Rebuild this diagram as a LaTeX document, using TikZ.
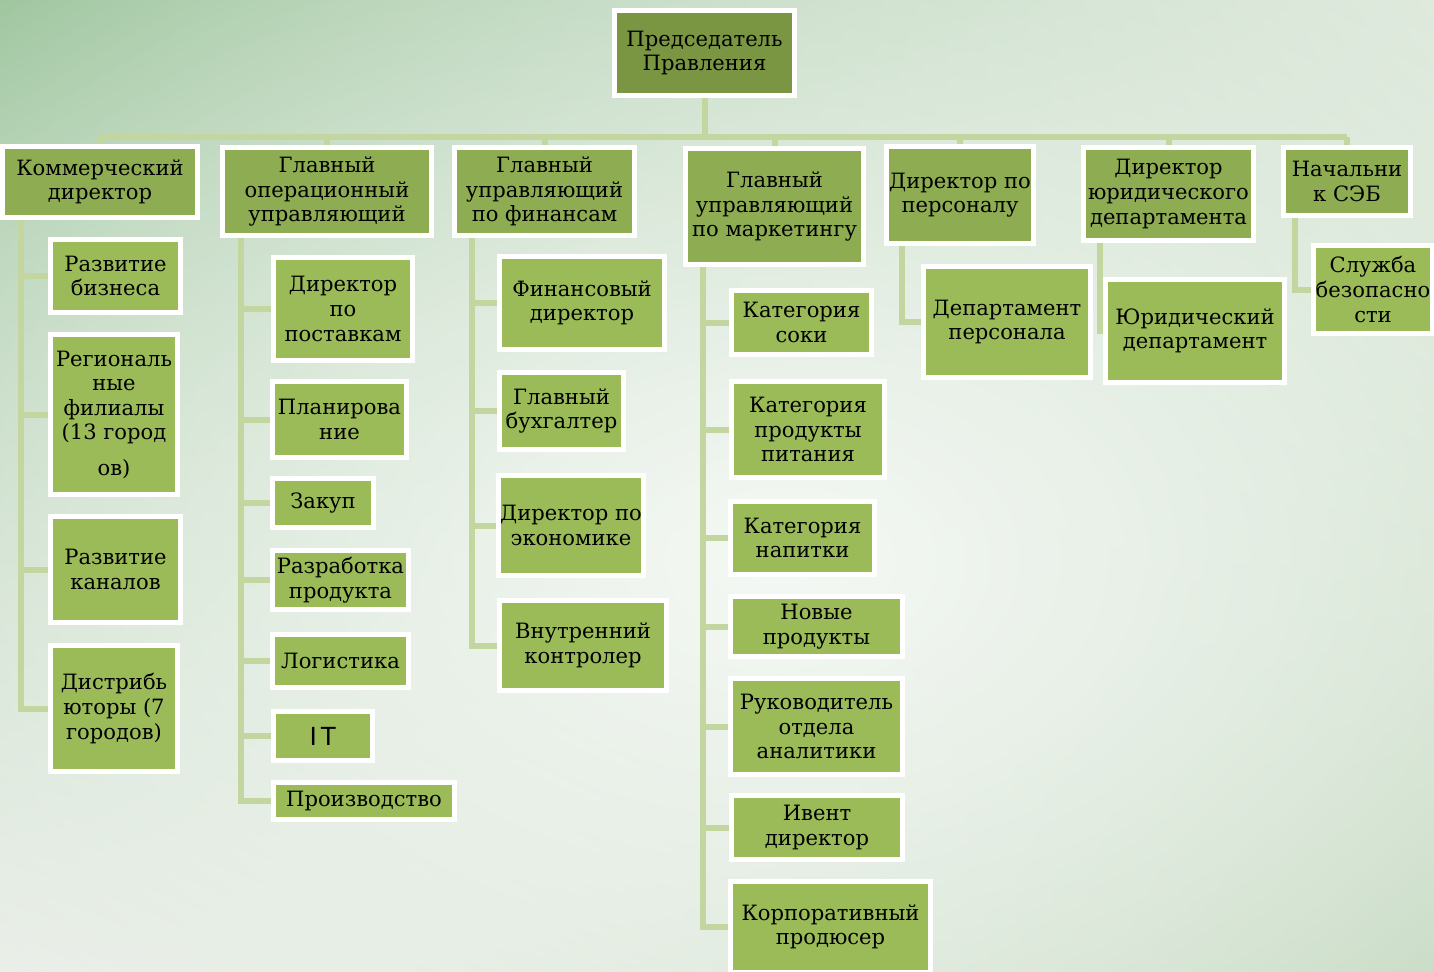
\documentclass[tikz,border=0pt]{standalone}
\usepackage{fontspec}
\setmainfont{DejaVu Serif}
\setsansfont{Liberation Sans}
\usetikzlibrary{backgrounds,fadings,shadings}
\definecolor{topgreen}{RGB}{122,150,67}
\definecolor{headgreen}{RGB}{142,172,82}
\definecolor{unitgreen}{RGB}{155,187,89}
\definecolor{linkgreen}{RGB}{196,214,160}
\definecolor{bgul}{RGB}{136,184,136}
\definecolor{bgur}{RGB}{212,227,210}
\definecolor{bgll}{RGB}{226,233,224}
\definecolor{bglr}{RGB}{176,204,172}
\tikzfading[name=glowfade, inner color=transparent!0, outer color=transparent!100]

\begin{document}
\begin{tikzpicture}[x=0.02cm,y=-0.02cm,
    orgbox/.style={draw=white, line width=0.1cm, inner sep=1pt, align=center,
      font=\fontsize{12}{14}\selectfont},
    chairbox/.style={orgbox, fill=topgreen},
    headbox/.style={orgbox, fill=headgreen},
    unitbox/.style={orgbox, fill=unitgreen},
    link/.style={draw=linkgreen, line width=0.12cm}]
        \useasboundingbox (0,0) rectangle (1434,971);
        \clip (0,0) rectangle (1434,971);

        % Chairman
        \node[chairbox, minimum width=3.6cm, minimum height=1.7cm] (chair) at (704.5,53) {Председатель\\Правления};

        % Heads
        \node[headbox, minimum width=3.92cm, minimum height=1.42cm] (kom) at (100,182) {Коммерческий\\директор};
        \node[headbox, minimum width=4.2cm, minimum height=1.76cm] (ops) at (327,191.5) {Главный\\операционный\\управляющий};
        \node[headbox, minimum width=3.6cm, minimum height=1.76cm] (fin) at (544.5,191.5) {Главный\\управляющий\\по финансам};
        \node[headbox, minimum width=3.56cm, minimum height=2.32cm] (mkt) at (774.5,206.5) {Главный\\управляющий\\по маркетингу};
        \node[headbox, minimum width=2.94cm, minimum height=1.94cm] (hr) at (960,195) {Директор по\\персоналу};
        \node[headbox, minimum width=3.4cm, minimum height=1.86cm] (legal) at (1168.5,194) {Директор\\юридического\\департамента};
        \node[headbox, minimum width=2.54cm, minimum height=1.36cm] (seb) at (1347,181.5) {Начальни\\к СЭБ};

        % Commercial
        \node[unitbox, minimum width=2.6cm, minimum height=1.46cm] (rb) at (115.5,276) {Развитие\\бизнеса};
        \node[unitbox, minimum width=2.54cm, minimum height=3.2cm] (rf) at (114,414.5) {Региональ\\ные\\филиалы\\(13 город\\[6pt]ов)};
        \node[unitbox, minimum width=2.6cm, minimum height=2.12cm] (rk) at (115.5,569.5) {Развитие\\каналов};
        \node[unitbox, minimum width=2.54cm, minimum height=2.52cm] (ds) at (114,708.5) {Дистрибь\\юторы (7\\городов)};

        % Operations
        \node[unitbox, minimum width=2.78cm, minimum height=2.06cm] (dp) at (343,309) {Директор\\по\\поставкам};
        \node[unitbox, minimum width=2.68cm, minimum height=1.52cm] (pl) at (339.5,419.5) {Планирова\\ние};
        \node[unitbox, minimum width=2.02cm, minimum height=0.98cm] (zk) at (323,503) {Закуп};
        \node[unitbox, minimum width=2.72cm, minimum height=1.18cm] (rp) at (340.5,580) {Разработка\\продукта};
        \node[unitbox, minimum width=2.72cm, minimum height=1.06cm] (lg) at (340.5,661) {Логистика};
        \node[unitbox, minimum width=1.98cm, minimum height=0.98cm] (it) at (323,736) {\fontsize{15}{16}\selectfont\sffamily I\kern2pt T};
        \node[unitbox, minimum width=3.62cm, minimum height=0.74cm] (pr) at (364,801) {Производство};

        % Finance
        \node[unitbox, minimum width=3.3cm, minimum height=1.86cm] (fd) at (582,303) {Финансовый\\директор};
        \node[unitbox, minimum width=2.48cm, minimum height=1.54cm] (gb) at (561.5,411) {Главный\\бухгалтер};
        \node[unitbox, minimum width=2.86cm, minimum height=2.0cm] (de) at (571,525.5) {Директор по\\экономике};
        \node[unitbox, minimum width=3.34cm, minimum height=1.8cm] (vk) at (583,645.5) {Внутренний\\контролер};

        % Marketing
        \node[unitbox, minimum width=2.8cm, minimum height=1.28cm] (ks) at (801.5,322.5) {Категория\\соки};
        \node[unitbox, minimum width=3.06cm, minimum height=1.92cm] (kp) at (808,429.5) {Категория\\продукты\\питания};
        \node[unitbox, minimum width=2.88cm, minimum height=1.46cm] (kn) at (802.5,538) {Категория\\напитки};
        \node[unitbox, minimum width=3.44cm, minimum height=1.2cm] (np) at (816.5,626.5) {Новые\\продукты};
        \node[unitbox, minimum width=3.44cm, minimum height=1.92cm] (ra) at (816.5,726.5) {Руководитель\\отдела\\аналитики};
        \node[unitbox, minimum width=3.42cm, minimum height=1.28cm] (id) at (817,827.5) {Ивент\\директор};
        \node[unitbox, minimum width=4.0cm, minimum height=1.82cm] (kpr) at (830.5,927) {Корпоративный\\продюсер};

        % Staff, legal, security
        \node[unitbox, minimum width=3.34cm, minimum height=2.22cm] (dpers) at (1007,322) {Департамент\\персонала};
        \node[unitbox, minimum width=3.58cm, minimum height=2.06cm] (yd) at (1195,331) {Юридический\\департамент};
        \node[unitbox, minimum width=2.38cm, minimum height=1.76cm] (sb) at (1373,289.5) {Служба\\безопасно\\сти};

        \coordinate (bus) at (0,137);
        \coordinate (s1) at (21,218);
        \coordinate (s2) at (241,237);
        \coordinate (s3) at (472,237);
        \coordinate (s4) at (703,267);
        \coordinate (s5) at (902,245);
        \coordinate (s6) at (1100,243);
        \coordinate (s7) at (1295,218);

        \begin{scope}[on background layer]
            % Background
            \shade[upper left=bgul, upper right=bgur, lower left=bgll, lower right=bglr] (0,0) rectangle (1434,971);
            \fill[white, path fading=glowfade, opacity=0.85] (780,560) ellipse [x radius=30cm, y radius=20cm];

            % Connectors
            \draw[link] (chair.south) -- (chair.south |- bus);
            \draw[link] (kom.north |- bus) -- (seb.north |- bus);
            \foreach \n in {kom,ops,fin,mkt,hr,legal,seb}
                \draw[link] (\n.north) -- (\n.north |- bus);
            \foreach \c in {rb,rf,rk,ds}
                \draw[link] (s1) |- (\c.west);
            \foreach \c in {dp,pl,zk,rp,lg,it,pr}
                \draw[link] (s2) |- (\c.west);
            \foreach \c in {fd,gb,de,vk}
                \draw[link] (s3) |- (\c.west);
            \foreach \c in {ks,kp,kn,np,ra,id,kpr}
                \draw[link] (s4) |- (\c.west);
            \draw[link] (s5) |- (dpers.west);
            \draw[link] (s6) |- (yd.west);
            \draw[link] (s7) |- (sb.west);
        \end{scope}
    \end{tikzpicture}
\end{document}
